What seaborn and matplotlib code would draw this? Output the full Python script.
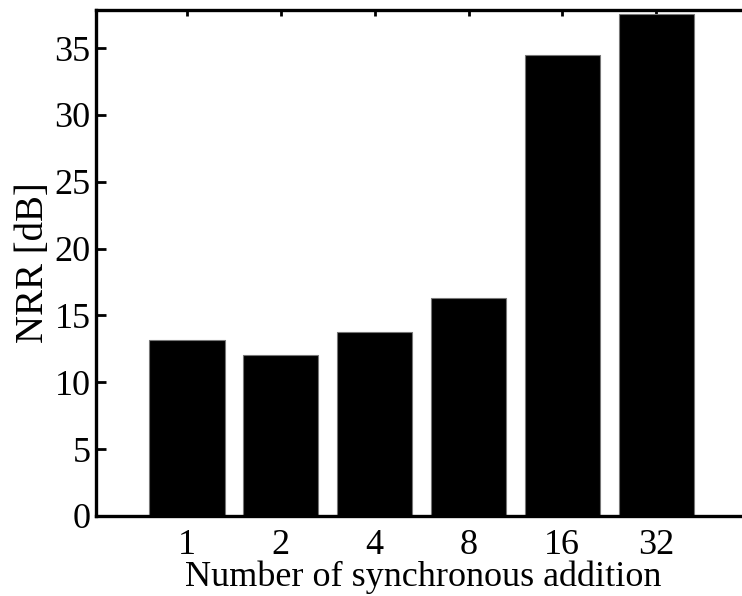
import matplotlib
matplotlib.use("Agg")
import matplotlib.pyplot as plt
import seaborn as sns
import pandas as pd

# Noise reduction ratio per number of synchronous additions
additions = ["1", "2", "4", "8", "16", "32"]
nrr_db = [13.2, 12.05, 13.75, 16.3, 34.45, 37.55]

df = pd.DataFrame({"additions": additions, "nrr": nrr_db})

sns.set_theme(style="white")
plt.rcParams["font.family"] = ["Liberation Serif", "DejaVu Serif"]
plt.rcParams["text.color"] = "black"
plt.rcParams["axes.labelcolor"] = "black"
plt.rcParams["xtick.color"] = "black"
plt.rcParams["ytick.color"] = "black"

W, H = 742, 596
fig = plt.figure(figsize=(W / 100, H / 100), dpi=100)
left, right, bottom, top = 96, 750, 80, 586
ax = fig.add_axes([left / W, bottom / H, (right - left) / W, (top - bottom) / H])

sns.barplot(data=df, x="additions", y="nrr", order=additions, color="black",
            saturation=1, width=0.8, edgecolor="#777777", linewidth=0.8, ax=ax)

ax.set_xlim(-0.97, 6.0)
ax.set_ylim(0, 37.85)
ax.set_yticks([0, 5, 10, 15, 20, 25, 30, 35])

ax.set_xlabel("Number of synchronous addition", fontsize=26, labelpad=-1)
ax.set_ylabel("NRR [dB]", fontsize=28, labelpad=2)

ax.tick_params(axis="both", labelsize=26, direction="in", color="black",
               labelcolor="black", width=2)
ax.tick_params(axis="y", length=7, left=True, right=False, pad=4)
ax.tick_params(axis="x", length=4, top=True, bottom=False, pad=9)
for s in ax.spines.values():
    s.set_visible(True)
    s.set_color("black")
    s.set_linewidth(2.4)

fig.savefig("out.png", dpi=100)
